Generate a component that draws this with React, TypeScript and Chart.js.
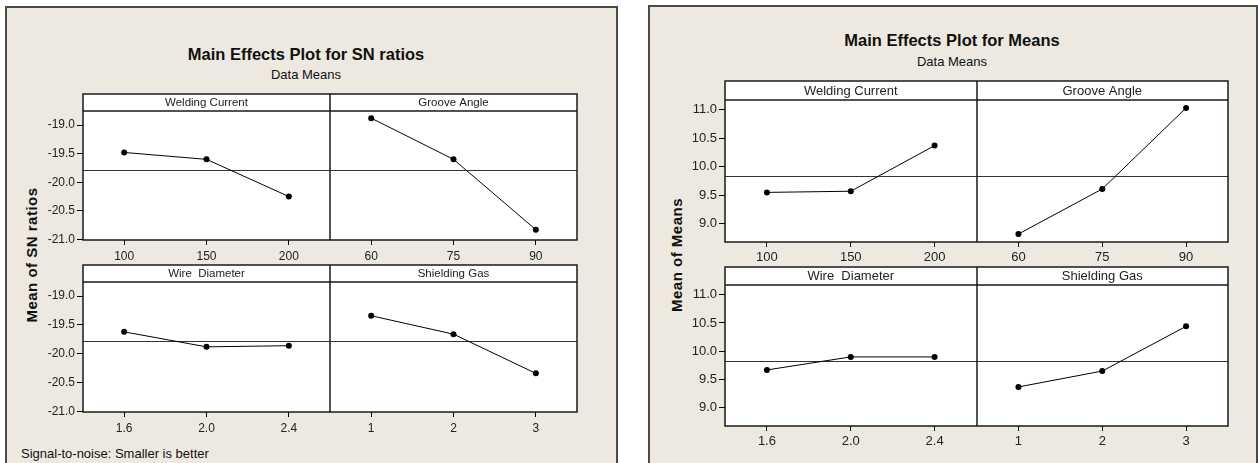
import React, { useEffect, useRef } from 'react';
import { Chart, registerables } from 'chart.js';

Chart.register(...registerables);

// ---------- data ----------
const weldingLevels = ['100', '150', '200'];
const grooveLevels = ['60', '75', '90'];
const wireLevels = ['1.6', '2.0', '2.4'];
const gasLevels = ['1', '2', '3'];

const snWelding = [-19.48, -19.6, -20.25];
const snGroove = [-18.88, -19.6, -20.83];
const snWire = [-19.62, -19.88, -19.86];
const snGas = [-19.34, -19.66, -20.34];
const snGrandMean = -19.78;
const snTicks = [-19.0, -19.5, -20.0, -20.5, -21.0];

const meanWelding = [9.55, 9.57, 10.37];
const meanGroove = [8.82, 9.61, 11.03];
const meanWire = [9.67, 9.9, 9.9];
const meanGas = [9.37, 9.65, 10.44];
const meansGrandMean = 9.83;
const meanTicks = [11.0, 10.5, 10.0, 9.5, 9.0];

const FONT = "'Liberation Sans', Arial, sans-serif";
const PANEL_BG = '#EDE9E0';

type RowProps = {
  left: number;
  headerTop: number;
  plotW: number;
  headerH: number;
  plotH: number;
  yAxisW: number;
  xAxisH: number;
  levelsA: string[];
  levelsB: string[];
  valuesA: number[];
  valuesB: number[];
  headers: string[];
  ymin: number;
  ymax: number;
  yticks: number[];
  mean: number;
  tickFont: number;
  headerFont: number;
  xPad: number;
};

function RowChart(p: RowProps) {
  const ref = useRef<HTMLCanvasElement>(null);
  const W = p.yAxisW + p.plotW + 3;
  const H = 2 + p.headerH + p.plotH + p.xAxisH;

  useEffect(() => {
    if (!ref.current) return;
    const labels = [...p.levelsA, ...p.levelsB];
    const dA: (number | null)[] = [...p.valuesA, null, null, null];
    const dB: (number | null)[] = [null, null, null, ...p.valuesB];

    const framePlugin = {
      id: 'minitabFrame',
      beforeDraw(chart: any) {
        const { ctx, chartArea: a } = chart;
        ctx.save();
        ctx.fillStyle = '#ffffff';
        ctx.fillRect(a.left, a.top - p.headerH, a.right - a.left, a.bottom - a.top + p.headerH);
        ctx.restore();
      },
      beforeDatasetsDraw(chart: any) {
        const { ctx, chartArea: a, scales } = chart;
        const yPix = scales.y.getPixelForValue(p.mean);
        ctx.save();
        ctx.strokeStyle = '#333';
        ctx.lineWidth = 1;
        ctx.beginPath();
        ctx.moveTo(a.left, Math.round(yPix) + 0.5);
        ctx.lineTo(a.right, Math.round(yPix) + 0.5);
        ctx.stroke();
        ctx.restore();
      },
      afterDraw(chart: any) {
        const { ctx, chartArea: a, scales } = chart;
        const top = a.top - p.headerH;
        const xs = scales.x;
        const divX = Math.round((xs.getPixelForValue(2) + xs.getPixelForValue(3)) / 2);
        ctx.save();
        ctx.strokeStyle = '#1a1a1a';
        ctx.lineWidth = 1.5;
        ctx.strokeRect(a.left, top, a.right - a.left, a.bottom - top);
        ctx.beginPath();
        ctx.moveTo(a.left, a.top);
        ctx.lineTo(a.right, a.top);
        ctx.moveTo(divX, top);
        ctx.lineTo(divX, a.bottom);
        ctx.stroke();
        ctx.fillStyle = '#222';
        ctx.font = `${p.headerFont}px ${FONT}`;
        ctx.textAlign = 'center';
        ctx.textBaseline = 'middle';
        ctx.fillText(p.headers[0], xs.getPixelForValue(1), top + p.headerH / 2 + 0.5);
        ctx.fillText(p.headers[1], xs.getPixelForValue(4), top + p.headerH / 2 + 0.5);
        ctx.restore();
      },
    };

    const ds = (data: (number | null)[]) => ({
      data,
      borderColor: '#000',
      borderWidth: 1,
      pointRadius: 3,
      pointBackgroundColor: '#000',
      pointBorderColor: '#000',
      pointBorderWidth: 0,
      spanGaps: false,
      tension: 0,
    });

    const chart = new Chart(ref.current, {
      type: 'line',
      data: { labels, datasets: [ds(dA), ds(dB)] },
      options: {
        animation: false,
        responsive: false,
        devicePixelRatio: 1,
        layout: { padding: { top: p.headerH + 2, right: 3, left: 0, bottom: 0 } },
        plugins: { legend: { display: false }, tooltip: { enabled: false }, title: { display: false } },
        scales: {
          x: {
            type: 'category',
            offset: true,
            grid: { drawOnChartArea: false, drawTicks: true, tickLength: 5, color: '#000', offset: false },
            border: { display: false },
            ticks: {
              autoSkip: false,
              maxRotation: 0,
              padding: p.xPad,
              color: '#222',
              font: { family: FONT, size: p.tickFont },
            },
            afterFit: (s: any) => {
              s.height = p.xAxisH;
            },
          },
          y: {
            type: 'linear',
            min: p.ymin,
            max: p.ymax,
            grid: { drawOnChartArea: false, drawTicks: true, tickLength: 6, color: '#000' },
            border: { display: false },
            afterBuildTicks: (s: any) => {
              s.ticks = p.yticks.map((v) => ({ value: v }));
            },
            ticks: {
              padding: 2,
              color: '#222',
              font: { family: FONT, size: p.tickFont },
              callback: (v: any) => Number(v).toFixed(1),
            },
            afterFit: (s: any) => {
              s.width = p.yAxisW;
            },
          },
        },
      } as any,
      plugins: [framePlugin],
    });
    return () => chart.destroy();
  }, []);

  return (
    <canvas
      ref={ref}
      width={W}
      height={H}
      style={{
        position: 'absolute',
        left: p.left - p.yAxisW,
        top: p.headerTop - 2,
        width: W,
        height: H,
      }}
    />
  );
}

function Txt(props: { x: number; y: number; size: number; bold?: boolean; children: string; align?: string; rotate?: boolean; spacing?: number }) {
  const { x, y, size, bold, children, align, rotate, spacing } = props;
  let transform = 'translate(-50%, -50%)';
  if (align === 'left') transform = 'translate(0, -50%)';
  if (rotate) transform = 'translate(-50%, -50%) rotate(-90deg)';
  return (
    <div
      style={{
        position: 'absolute',
        left: x,
        top: y,
        transform,
        fontFamily: FONT,
        fontSize: size,
        fontWeight: bold ? 'bold' : 'normal',
        whiteSpace: 'nowrap',
        lineHeight: 1,
        color: '#111',
        letterSpacing: spacing ? `${spacing}px` : undefined,
      }}
    >
      {children}
    </div>
  );
}

export default function App() {
  return (
    <div
      style={{
        position: 'absolute',
        left: 0,
        top: 0,
        width: 1258,
        height: 463,
        overflow: 'hidden',
        background: '#fff',
      }}
    >
      {/* Left panel: SN ratios */}
      <div
        style={{
          position: 'absolute',
          left: 5,
          top: 6,
          width: 613,
          height: 480,
          boxSizing: 'border-box',
          border: '2px solid #4a4a4a',
          background: PANEL_BG,
        }}
      />
      <Txt x={306} y={54} size={16.5} bold>
        Main Effects Plot for SN ratios
      </Txt>
      <Txt x={306} y={74} size={13}>
        Data Means
      </Txt>
      <Txt x={31} y={255} size={15} bold rotate spacing={0.5}>
        Mean of SN ratios
      </Txt>
      <Txt x={21} y={453} size={13} align="left">
        Signal-to-noise: Smaller is better
      </Txt>
      <RowChart
        left={83}
        headerTop={94}
        plotW={495}
        headerH={17}
        plotH={129}
        yAxisW={60}
        xAxisH={30}
        levelsA={weldingLevels}
        levelsB={grooveLevels}
        valuesA={snWelding}
        valuesB={snGroove}
        headers={['Welding Current', 'Groove Angle']}
        ymin={-21.01}
        ymax={-18.755}
        yticks={snTicks}
        mean={snGrandMean}
        tickFont={12}
        headerFont={11.5}
        xPad={4}
      />
      <RowChart
        left={83}
        headerTop={265}
        plotW={495}
        headerH={17}
        plotH={130}
        yAxisW={60}
        xAxisH={30}
        levelsA={wireLevels}
        levelsB={gasLevels}
        valuesA={snWire}
        valuesB={snGas}
        headers={['Wire  Diameter', 'Shielding Gas']}
        ymin={-21.01}
        ymax={-18.755}
        yticks={snTicks}
        mean={snGrandMean}
        tickFont={12}
        headerFont={11.5}
        xPad={4}
      />

      {/* Right panel: Means */}
      <div
        style={{
          position: 'absolute',
          left: 648,
          top: 5,
          width: 610,
          height: 480,
          boxSizing: 'border-box',
          border: '2px solid #4a4a4a',
          background: PANEL_BG,
        }}
      />
      <Txt x={952} y={40} size={16.5} bold>
        Main Effects Plot for Means
      </Txt>
      <Txt x={952} y={61} size={13}>
        Data Means
      </Txt>
      <Txt x={676} y={255} size={15} bold rotate spacing={0.5}>
        Mean of Means
      </Txt>
      <RowChart
        left={725}
        headerTop={81}
        plotW={504}
        headerH={19}
        plotH={142}
        yAxisW={60}
        xAxisH={30}
        levelsA={weldingLevels}
        levelsB={grooveLevels}
        valuesA={meanWelding}
        valuesB={meanGroove}
        headers={['Welding Current', 'Groove Angle']}
        ymin={8.68}
        ymax={11.17}
        yticks={meanTicks}
        mean={meansGrandMean}
        tickFont={13}
        headerFont={13}
        xPad={3}
      />
      <RowChart
        left={725}
        headerTop={267}
        plotW={504}
        headerH={18}
        plotH={141}
        yAxisW={60}
        xAxisH={30}
        levelsA={wireLevels}
        levelsB={gasLevels}
        valuesA={meanWire}
        valuesB={meanGas}
        headers={['Wire  Diameter', 'Shielding Gas']}
        ymin={8.68}
        ymax={11.17}
        yticks={meanTicks}
        mean={meansGrandMean}
        tickFont={13}
        headerFont={13}
        xPad={3}
      />
    </div>
  );
}
